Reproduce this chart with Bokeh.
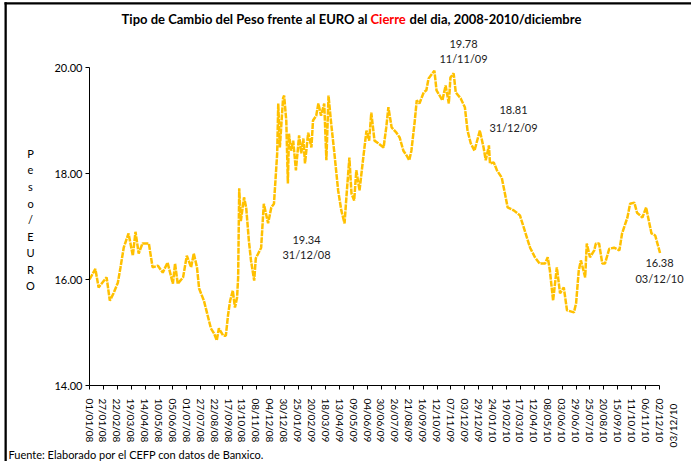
import math
import pandas as pd
from bokeh.plotting import figure
from bokeh.models import FixedTicker, NumeralTickFormatter, Label, Range1d, LinearAxis, BoxAnnotation
from bokeh.embed import file_html
from bokeh.resources import INLINE

# ---- data ----
fechas = [
    "2008-01-01", "2008-01-12", "2008-01-18", "2008-02-02", "2008-02-08", "2008-02-15", "2008-02-23",
    "2008-02-28", "2008-03-05", "2008-03-14", "2008-03-22", "2008-03-27", "2008-04-02", "2008-04-09",
    "2008-04-21", "2008-04-28", "2008-05-08", "2008-05-17", "2008-05-26", "2008-06-05", "2008-06-09",
    "2008-06-14", "2008-06-24", "2008-07-01", "2008-07-09", "2008-07-14", "2008-07-20", "2008-07-24",
    "2008-08-02", "2008-08-08", "2008-08-15", "2008-08-21", "2008-08-26", "2008-08-30", "2008-09-07",
    "2008-09-12", "2008-09-16", "2008-09-20", "2008-09-25", "2008-09-29", "2008-10-03", "2008-10-05",
    "2008-10-07", "2008-10-10", "2008-10-16", "2008-10-20", "2008-10-25", "2008-10-29", "2008-11-04",
    "2008-11-07", "2008-11-17", "2008-11-22", "2008-11-30", "2008-12-06", "2008-12-11", "2008-12-17",
    "2008-12-19", "2008-12-22", "2008-12-28", "2008-12-30", "2009-01-03", "2009-01-06", "2009-01-08",
    "2009-01-12", "2009-01-16", "2009-01-21", "2009-01-27", "2009-01-31", "2009-02-04", "2009-02-07",
    "2009-02-13", "2009-02-19", "2009-02-22", "2009-02-28", "2009-03-04", "2009-03-09", "2009-03-15",
    "2009-03-19", "2009-03-23", "2009-03-28", "2009-04-03", "2009-04-10", "2009-04-16", "2009-04-22",
    "2009-04-25", "2009-05-01", "2009-05-05", "2009-05-10", "2009-05-14", "2009-05-20", "2009-05-27",
    "2009-06-02", "2009-06-07", "2009-06-11", "2009-06-17", "2009-06-24", "2009-07-04", "2009-07-09",
    "2009-07-13", "2009-07-19", "2009-07-28", "2009-08-03", "2009-08-10", "2009-08-16", "2009-08-21",
    "2009-08-25", "2009-08-31", "2009-09-04", "2009-09-09", "2009-09-17", "2009-09-22", "2009-09-26",
    "2009-10-07", "2009-10-11", "2009-10-22", "2009-10-28", "2009-11-03", "2009-11-06", "2009-11-12",
    "2009-11-16", "2009-11-25", "2009-12-03", "2009-12-08", "2009-12-14", "2009-12-21", "2009-12-31",
    "2010-01-07", "2010-01-11", "2010-01-17", "2010-01-19", "2010-01-26", "2010-02-01", "2010-02-10",
    "2010-02-16", "2010-02-21", "2010-03-05", "2010-03-16", "2010-03-25", "2010-04-04", "2010-04-13",
    "2010-04-22", "2010-05-02", "2010-05-07", "2010-05-11", "2010-05-17", "2010-05-24", "2010-05-30",
    "2010-06-06", "2010-06-12", "2010-06-25", "2010-06-29", "2010-07-04", "2010-07-08", "2010-07-16",
    "2010-07-19", "2010-07-25", "2010-08-02", "2010-08-05", "2010-08-11", "2010-08-17", "2010-08-22",
    "2010-08-30", "2010-09-08", "2010-09-18", "2010-09-23", "2010-10-03", "2010-10-08", "2010-10-16",
    "2010-10-21", "2010-10-31", "2010-11-07", "2010-11-13", "2010-11-17", "2010-11-24", "2010-12-03",
]
peso_euro = [
    16.00, 16.20, 15.85, 16.04, 15.60, 15.74, 15.94,
    16.23, 16.60, 16.87, 16.45, 16.90, 16.49, 16.68,
    16.68, 16.23, 16.26, 16.13, 16.32, 15.92, 16.30,
    15.92, 16.04, 16.45, 16.23, 16.49, 16.23, 15.83,
    15.60, 15.36, 15.08, 14.98, 14.85, 15.08, 14.94,
    14.94, 15.32, 15.60, 15.79, 15.47, 15.66, 16.04,
    17.72, 17.10, 17.55, 17.36, 16.74, 16.36, 15.98,
    16.40, 16.60, 17.43, 17.06, 17.36, 17.43, 18.38,
    19.32, 18.49, 19.42, 19.47, 19.00, 17.81, 18.75,
    18.43, 18.62, 18.06, 18.72, 18.38, 18.66, 18.19,
    18.77, 18.49, 19.00, 19.09, 19.32, 19.09, 19.32,
    18.25, 19.47, 18.94, 18.38, 17.68, 17.30, 17.06,
    17.49, 18.30, 17.62, 17.49, 18.06, 17.68, 18.30,
    18.81, 18.62, 19.15, 18.62, 18.57, 18.49, 18.87,
    19.25, 18.87, 18.77, 18.68, 18.43, 18.34, 18.25,
    18.43, 18.96, 19.38, 19.32, 19.53, 19.57, 19.79,
    19.94, 19.57, 19.38, 19.66, 19.32, 19.81, 19.89,
    19.53, 19.42, 19.25, 18.81, 18.57, 18.43, 18.81,
    18.49, 18.25, 18.53, 18.19, 18.21, 18.06, 17.92,
    17.62, 17.36, 17.30, 17.21, 16.92, 16.60, 16.42,
    16.30, 16.30, 16.42, 16.17, 15.60, 16.23, 15.74,
    15.85, 15.42, 15.38, 15.55, 16.17, 16.36, 16.04,
    16.68, 16.42, 16.55, 16.68, 16.68, 16.30, 16.30,
    16.58, 16.60, 16.55, 16.87, 17.17, 17.43, 17.45,
    17.26, 17.17, 17.36, 17.06, 16.87, 16.83, 16.50,
]
tick_labels = [
    "01/01/08", "27/01/08", "22/02/08", "19/03/08", "14/04/08", "10/05/08", "05/06/08",
    "01/07/08", "27/07/08", "22/08/08", "17/09/08", "13/10/08", "08/11/08", "04/12/08",
    "30/12/08", "25/01/09", "20/02/09", "18/03/09", "13/04/09", "09/05/09", "04/06/09",
    "30/06/09", "26/07/09", "21/08/09", "16/09/09", "12/10/09", "07/11/09", "03/12/09",
    "29/12/09", "24/01/10", "19/02/10", "17/03/10", "12/04/10", "08/05/10", "03/06/10",
    "29/06/10", "25/07/10", "20/08/10", "15/09/10", "11/10/10", "06/11/10", "02/12/10",
]
y_ticks = [14, 16, 18, 20]
anotaciones = [("19.78", "11/11/09"), ("18.81", "31/12/09"), ("19.34", "31/12/08"), ("16.38", "03/12/10")]
ultimo_dia = "03/12/10"

base = pd.Timestamp("2008-01-01")
dias = [(pd.Timestamp(f) - base).days for f in fechas]
tick_pos = [(pd.to_datetime(t, format="%d/%m/%y") - base).days for t in tick_labels]

FONT = "Lato"
W, H = 691, 461
# plotting area inside the canvas (pixels from top-left)
AX_LEFT, AX_RIGHT, AX_TOP, AX_BOTTOM = 89, 659, 67, 385
ppx = (AX_RIGHT - AX_LEFT) / (tick_pos[-1] - tick_pos[0])   # px per day
ppy = (AX_BOTTOM - AX_TOP) / (y_ticks[-1] - y_ticks[0])     # px per unit
x0 = tick_pos[0] - AX_LEFT / ppx
x1 = tick_pos[0] + (W - AX_LEFT) / ppx
y0 = y_ticks[0] - (H - AX_BOTTOM) / ppy
y1 = y_ticks[0] + AX_BOTTOM / ppy

p = figure(width=W, height=H, output_backend="svg", toolbar_location=None,
           x_range=Range1d(x0, x1), y_range=Range1d(y0, y1),
           x_axis_location=None, y_axis_location=None,
           min_border=0, min_border_left=0, min_border_right=0, min_border_top=0, min_border_bottom=0)
p.outline_line_color = None
p.xgrid.visible = False
p.ygrid.visible = False
p.background_fill_color = "white"
p.border_fill_color = "white"

p.line(dias, peso_euro, color="#FFC000", line_width=2.5, line_dash="6 1")

# axes drawn at fixed data positions
xaxis = LinearAxis(fixed_location=y_ticks[0], bounds=(tick_pos[0], tick_pos[-1]),
                   ticker=FixedTicker(ticks=tick_pos),
                   major_label_overrides={t: l for t, l in zip(tick_pos, tick_labels)},
                   major_label_orientation="vertical")
yaxis = LinearAxis(fixed_location=tick_pos[0], bounds=(y_ticks[0], y_ticks[-1]),
                   ticker=FixedTicker(ticks=y_ticks), formatter=NumeralTickFormatter(format="0.00"))
for ax in (xaxis, yaxis):
    ax.axis_line_color = "black"
    ax.axis_line_width = 1
    ax.major_tick_line_color = "black"
    ax.major_tick_in = 0
    ax.major_tick_out = 4
    ax.minor_tick_line_color = None
    ax.major_label_text_font = FONT
    ax.major_label_text_color = "black"
xaxis.major_label_text_font_size = "10px"
xaxis.major_label_standoff = 9
yaxis.major_label_text_font_size = "11px"
yaxis.major_label_standoff = 3
p.add_layout(xaxis, "below")
p.add_layout(yaxis, "left")

# black frame lines at the top and left edge of the picture
for l, r, b, t in ((4, W, H - 4, H - 1.7), (4, 6.3, 0, H - 1.7)):
    p.add_layout(BoxAnnotation(left=l, right=r, bottom=b, top=t, left_units="screen", right_units="screen",
                               bottom_units="screen", top_units="screen", fill_color="black",
                               fill_alpha=1, line_color=None))


def lab(x, y, text, **kw):
    # x from the left, y from the top of the picture (pixels)
    opts = dict(x_units="screen", y_units="screen", text_align="center", text_baseline="middle",
                text_font=FONT, text_font_size="11px", text_color="black")
    opts.update(kw)
    p.add_layout(Label(x=x, y=H - y, text=text, **opts))


# title (with the red word)
ty = 18
tkw = dict(text_font_style="bold", text_font_size="13px")
lab(367, ty, "Tipo de Cambio del Peso frente al EURO al", text_align="right", **tkw)
lab(370, ty, "Cierre", text_align="left", text_color="#FF0000", **tkw)
lab(409, ty, "del dia, 2008-2010/diciembre", text_align="left", **tkw)

# vertical stacked axis title
for i, ch in enumerate("Peso/EURO"):
    lab(30, 153 + i * 16.5, ch)

# value / date annotations
pos = [(463, 43, 58), (513, 109, 127), (306, 239, 254), (659, 262, 278)]
for (val, fec), (x, ya, yb) in zip(anotaciones, pos):
    lab(x, ya, val, text_color="#222222")
    lab(x, yb, fec, text_color="#222222")

# extra last date label under the axis
lab(672, 425, ultimo_dia, angle=math.pi / 2, text_font_size="10px")

# source note
lab(8, 454, "Fuente: Elaborado por el CEFP con datos de Banxico.", text_align="left")

open("out.html", "w").write(file_html(p, INLINE))
